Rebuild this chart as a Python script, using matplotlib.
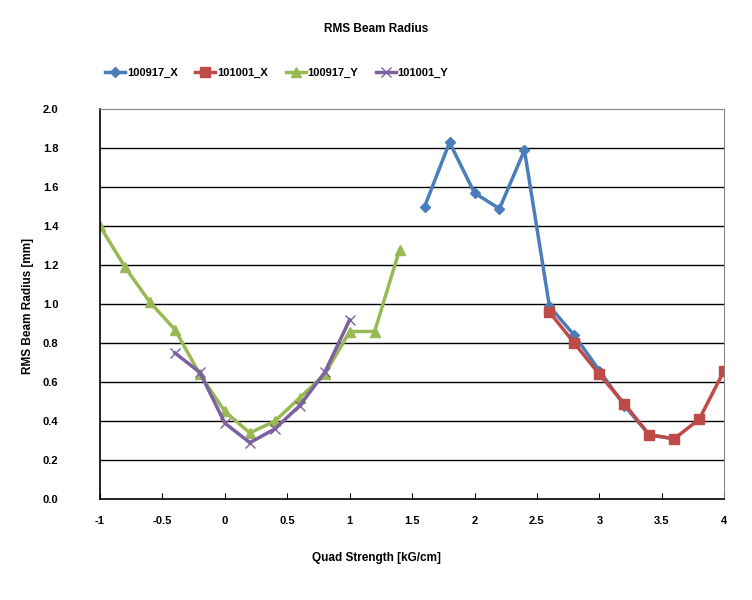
import numpy as np
import matplotlib.pyplot as plt

plt.rcParams['font.family'] = ['Liberation Sans', 'DejaVu Sans']

# veriler
x_100917_X = [1.6, 1.8, 2.0, 2.2, 2.4, 2.6, 2.8, 3.0, 3.2, 3.4, 3.6]
y_100917_X = [1.50, 1.83, 1.57, 1.49, 1.79, 0.99, 0.84, 0.66, 0.48, 0.33, 0.31]

x_101001_X = [2.6, 2.8, 3.0, 3.2, 3.4, 3.6, 3.8, 4.0]
y_101001_X = [0.96, 0.80, 0.64, 0.49, 0.33, 0.31, 0.41, 0.66]

x_100917_Y = [-1.0, -0.8, -0.6, -0.4, -0.2, 0.0, 0.2, 0.4, 0.6, 0.8, 1.0, 1.2, 1.4]
y_100917_Y = [1.40, 1.19, 1.01, 0.87, 0.64, 0.45, 0.34, 0.40, 0.52, 0.64, 0.86, 0.86, 1.28]

x_101001_Y = [-0.4, -0.2, 0.0, 0.2, 0.4, 0.6, 0.8, 1.0]
y_101001_Y = [0.75, 0.65, 0.39, 0.29, 0.36, 0.48, 0.65, 0.92]

x_ticks = [-1, -0.5, 0, 0.5, 1, 1.5, 2, 2.5, 3, 3.5, 4]
x_tick_labels = ['-1', '-0.5', '0', '0.5', '1', '1.5', '2', '2.5', '3', '3.5', '4']
y_ticks = np.arange(0, 2.01, 0.2)

fig = plt.figure(figsize=(7.52, 6), dpi=100)
ax = fig.add_axes([0.133, 0.168, 0.83, 0.65])

# yatay kılavuz çizgileri
for yv in y_ticks[1:-1]:
    ax.axhline(yv, color='black', lw=1, zorder=0)

ax.plot(x_100917_X, y_100917_X, color='#4A7EBB', lw=2.5, marker='D', ms=5, label='100917_X')
ax.plot(x_101001_X, y_101001_X, color='#BE4B48', lw=2.5, marker='s', ms=7, label='101001_X')
ax.plot(x_100917_Y, y_100917_Y, color='#98B954', lw=2.5, marker='^', ms=7, label='100917_Y')
ax.plot(x_101001_Y, y_101001_Y, color='#7D60A0', lw=2.5, marker='x', ms=7, mew=1, label='101001_Y')

ax.set_xlim(-1, 4)
ax.set_ylim(0, 2.0)
ax.set_xticks(x_ticks)
ax.set_xticklabels(x_tick_labels)
ax.set_yticks(y_ticks)
ax.set_yticklabels([f'{v:.1f}' for v in y_ticks])
ax.tick_params(axis='x', direction='in', length=4, pad=12, labelsize=8)
ax.tick_params(axis='y', length=0, pad=30, labelsize=8)
for lab in ax.get_xticklabels() + ax.get_yticklabels():
    lab.set_fontweight('bold')

for s in ['top', 'right']:
    ax.spines[s].set_color('#888888')
ax.spines['left'].set_color('black')
ax.spines['bottom'].set_color('black')
ax.spines['left'].set_linewidth(1.2)
ax.spines['bottom'].set_linewidth(1.2)

fig.text(0.5, 0.951, 'RMS Beam Radius', ha='center', va='center', fontsize=8.5, fontweight='bold')
fig.text(0.5, 0.07, 'Quad Strength [kG/cm]', ha='center', va='center', fontsize=8.5, fontweight='bold')
fig.text(0.037, 0.49, 'RMS Beam Radius [mm]', ha='center', va='center', rotation=90, fontsize=8.5, fontweight='bold')

leg = fig.legend(loc='center', bbox_to_anchor=(0.368, 0.878), ncol=4, frameon=False,
                 columnspacing=1.6, handlelength=1.8, handletextpad=0.15, prop={'size': 8, 'weight': 'bold'})

fig.savefig('out.png', dpi=100)
